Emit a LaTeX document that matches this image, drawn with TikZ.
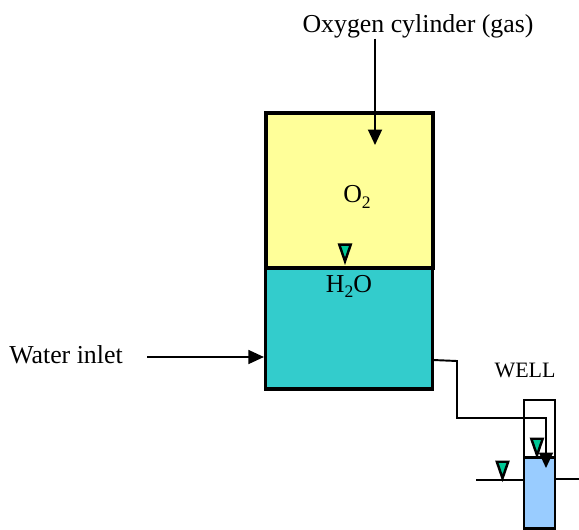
\documentclass[tikz,border=0pt]{standalone}
\usepackage{fontspec}
\setmainfont{Liberation Serif}
\usetikzlibrary{arrows.meta, positioning, shapes.geometric, calc}
\definecolor{gascolor}{HTML}{FFFF99}
\definecolor{watercolor}{HTML}{33CCCC}
\definecolor{wellcolor}{HTML}{99CCFF}
\definecolor{markcolor}{HTML}{00C896}
\newcommand{\lowtwo}{\raisebox{-0.45ex}{\fontsize{10}{10}\selectfont 2}}
\tikzstyle{tank} = [rectangle, draw, line width=1.8pt, minimum width=33.4mm]
\tikzstyle{label} = [font=\fontsize{14.7}{17}\selectfont, inner sep=0pt]
\tikzstyle{level} = [isosceles triangle, isosceles triangle apex angle=38, shape border rotate=270, draw, line width=1.4pt, fill=markcolor, minimum height=3.3mm, inner sep=0pt]
\tikzstyle{arrow} = [-{Triangle[length=3.1mm, width=2.8mm]}, line width=1.1pt]
\tikzstyle{line} = [-, line width=1.2pt]

\begin{document}
\begin{tikzpicture}
        \useasboundingbox (0,0) rectangle (11.58,10.58);

        % Tank
        \node[tank, line width=2.2pt, fill=gascolor, minimum height=31mm] (gas) at (6.99,6.77) {};
        \node[tank, fill=watercolor, minimum height=24.2mm] (water) at (6.98,4.01) {};

        % Tank labels
        \node[label] (o2) at (7.14,6.64) {O\lowtwo};
        \node[label] (h2o) at (6.98,4.85) {H\lowtwo O};
        \node[level, anchor=apex] (gas_level) at (6.90,5.28) {};

        % Oxygen feed
        \node[label] (oxygen) at (8.36,10.05) {Oxygen cylinder (gas)};
        \coordinate (gas_in) at (7.50,7.68);
        \draw[arrow] (oxygen.south -| gas_in) -- (gas_in);

        % Water inlet
        \node[label] (inlet) at (1.32,3.48) {Water inlet};
        \coordinate (inlet_start) at (2.94,3.44);
        \draw[arrow, line width=0.8pt] (inlet_start) -- (inlet_start -| water.west);

        % Well
        \node[rectangle, draw, line width=1.3pt, minimum width=6.2mm, minimum height=25.6mm] (well) at (10.79,1.30) {};
        \node[rectangle, draw, line width=1.3pt, fill=wellcolor, minimum width=6.2mm, minimum height=14.2mm] (well_water) at (10.79,0.72) {};
        \node[font=\fontsize{12.5}{15}\selectfont, inner sep=0pt] (well_label) at (10.50,3.18) {WELL};
        \node[level, anchor=apex] (well_level) at (10.74,1.40) {};
        \node[level, anchor=apex] (ground_level) at (10.05,0.94) {};

        % Ground lines
        \coordinate (ground_l) at (9.52,0.98);
        \coordinate (ground_r) at (11.58,1.00);
        \draw[line] (ground_l) -- (ground_l -| well.west);
        \draw[line] (ground_r) -- (ground_r -| well.east);

        % Pipe connection
        \coordinate (pipe_out) at (8.66,3.38);
        \coordinate (pipe_end) at (10.92,1.22);
        \draw[arrow] (pipe_out) -- (9.14,3.36) -- (9.14,2.22) -- (10.92,2.22) -- (pipe_end);
\end{tikzpicture}
\end{document}
